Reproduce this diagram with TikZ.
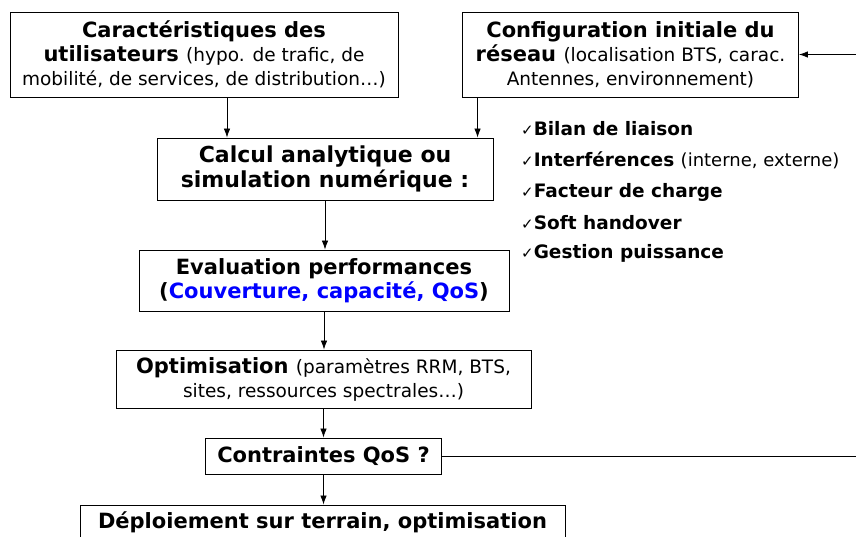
\documentclass[tikz,border=0pt]{standalone}
\usepackage{fontspec}
\setmainfont{DejaVu Sans}
\usetikzlibrary{arrows.meta}

% regular text inside the bold boxes, and the small tick
\newcommand{\plain}[1]{{\fontsize{18.5}{24}\selectfont\mdseries #1}}
\newcommand{\plainck}[1]{{\fontsize{18}{20}\selectfont\mdseries #1}}
\newcommand{\tick}{{\fontsize{15}{15}\selectfont\mdseries ✓}}

\tikzset{
  stage/.style={draw, line width=0.9pt, align=center, inner sep=0pt,
    font=\fontsize{21}{24}\selectfont\bfseries},
  check/.style={anchor=west, inner sep=0pt,
    font=\fontsize{18.5}{20}\selectfont\bfseries},
  flow/.style={->, >={Latex[length=9pt,width=6.5pt]}, line width=0.8pt}
}

\begin{document}
\begin{tikzpicture}[x=1pt,y=1pt]
  \useasboundingbox (0,0) rectangle (856,536);

  \node[stage, minimum width=388pt, minimum height=85pt] (users) at (204,481.5)
    {Caractéristiques des\\utilisateurs \plain{(hypo. de trafic, de}\\
     \plain{mobilité, de services, de distribution…)}};
  \node[stage, minimum width=336pt, minimum height=85pt] (config) at (630.5,481.5)
    {Configuration initiale du\\réseau \plain{(localisation BTS, carac.}\\
     \plain{Antennes, environnement)}};

  \node[stage, minimum width=336pt, minimum height=62pt,
    font=\fontsize{22}{25}\selectfont\bfseries] (calcul) at (325,367)
    {Calcul analytique ou\\simulation numérique :};
  \node[stage, minimum width=370pt, minimum height=61pt] (eval) at (324,255.5)
    {Evaluation performances\\(\textcolor{blue}{Couverture, capacité, QoS})};
  \node[stage, minimum width=415pt, minimum height=58pt] (optim) at (323.5,157)
    {Optimisation \plain{(paramètres RRM, BTS,}\\
     \plain{sites, ressources spectrales…)}};
  \node[stage, minimum width=236pt, minimum height=36pt] (qos) at (323.5,80)
    {Contraintes QoS ?};
  \node[stage, minimum width=485pt, minimum height=34pt, anchor=north] (deploy)
    at (322.5,31.5) {Déploiement sur terrain, optimisation};

  % what the calculation takes into account
  \node[check] (bilan)   at (521,407) {\tick Bilan de liaison};
  \node[check] (interf)  at (521,376) {\tick Interférences \plainck{(interne, externe)}};
  \node[check] (charge)  at (521,344) {\tick Facteur de charge};
  \node[check] (soft)    at (521,313) {\tick Soft handover};
  \node[check] (gestion) at (521,283) {\tick Gestion puissance};

  \coordinate (loop) at (880,0);

  \draw[flow] ([xshift=23pt]users.south) -- ([xshift=23pt]users.south |- calcul.north);
  \draw[flow] ([xshift=15.5pt]config.south west) -- ([xshift=15.5pt]config.south west |- calcul.north);
  \draw[flow] (calcul.south) -- (calcul.south |- eval.north);
  \draw[flow] (eval.south) -- (eval.south |- optim.north);
  \draw[flow] (optim.south) -- (optim.south |- qos.north);
  \draw[flow] (qos.south) -- (qos.south |- deploy.north);
  \draw[flow] (qos.east) -- (qos.east -| loop) |- (config.east);
\end{tikzpicture}
\end{document}
